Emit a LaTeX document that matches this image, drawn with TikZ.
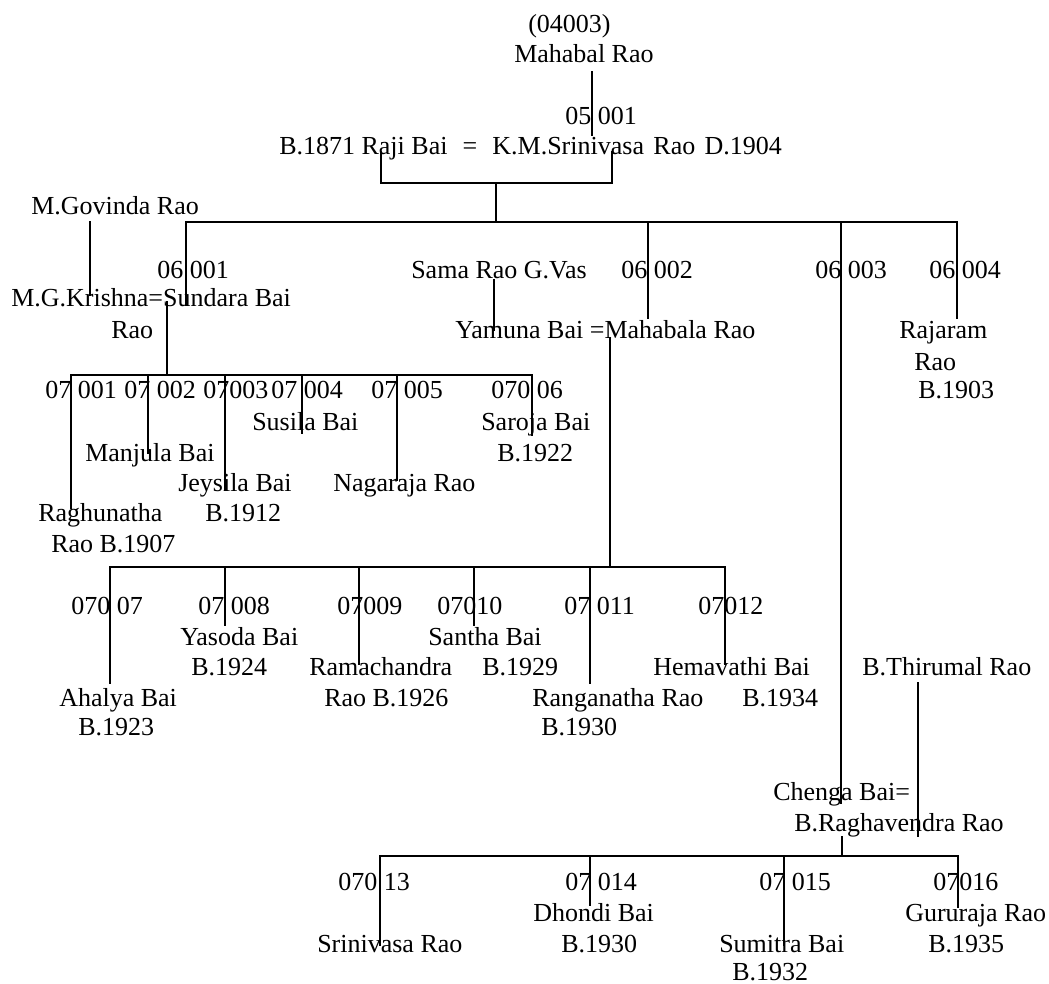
\documentclass[tikz,border=0pt]{standalone}
\usepackage{fontspec}
\setmainfont{Liberation Serif}
\begin{document}
\begin{tikzpicture}[x=0.75pt,y=-0.75pt,
  lbl/.style={anchor=base west, inner sep=0pt, font=\fontsize{19.5}{23}\selectfont},
  conn/.style={line width=1.4pt, line cap=rect}]
\useasboundingbox (0,0) rectangle (1049,984);
\fill[white] (0,0) rectangle (1049,984);
% ---- texts (base west) ----
\node[lbl] (n04003) at (528,33) {(04003)};
\node[lbl] (mahabal) at (514,63) {Mahabal Rao};
\node[lbl] (g05) at (565,125) {05 001};
\node[lbl] (couple1) at (279,155) {B.1871 Raji Bai\hspace{0.58em}=\hspace{0.58em}K.M.Srinivasa\hspace{0.36em}Rao\hspace{0.36em}D.1904};
\node[lbl] (govinda) at (31,215) {M.Govinda Rao};
\node[lbl] (g06a) at (157,278) {06 001};
\node[lbl] (krishna) at (11,306) {M.G.Krishna=Sundara Bai};
\node[lbl] (krishnarao) at (111,338) {Rao};
\node[lbl] (sama) at (411,278) {Sama Rao G.Vas};
\node[lbl] (g06b) at (621,278) {06 002};
\node[lbl] (g06c) at (815,278) {06 003};
\node[lbl] (g06d) at (929,278) {06 004};
\node[lbl] (yamuna) at (455,338) {Yamuna Bai =Mahabala Rao};
\node[lbl] (rajaram) at (899,338) {Rajaram};
\node[lbl] (rajaramrao) at (914,370) {Rao};
\node[lbl] (rajaramb) at (918,398) {B.1903};
% gen 7 (first family)
\node[lbl] (c1) at (45,398) {07 001};
\node[lbl] (c2) at (124,398) {07 002};
\node[lbl] (c3) at (203,398) {07003};
\node[lbl] (c4) at (271,398) {07 004};
\node[lbl] (c5) at (371,398) {07 005};
\node[lbl] (c6) at (491,398) {070 06};
\node[lbl] (susila) at (252,430) {Susila Bai};
\node[lbl] (saroja) at (481,430) {Saroja Bai};
\node[lbl] (manjula) at (85,461) {Manjula Bai};
\node[lbl] (sarojab) at (497,461) {B.1922};
\node[lbl] (jeysila) at (178,491) {Jeysila Bai};
\node[lbl] (nagaraja) at (333,491) {Nagaraja Rao};
\node[lbl] (raghu) at (38,521) {Raghunatha};
\node[lbl] (jeysilab) at (205,521) {B.1912};
\node[lbl] (raghub) at (51,552) {Rao B.1907};
% gen 7 (second family)
\node[lbl] (c7) at (71,614) {070 07};
\node[lbl] (c8) at (198,614) {07 008};
\node[lbl] (c9) at (337,614) {07009};
\node[lbl] (c10) at (437,614) {07010};
\node[lbl] (c11) at (564,614) {07 011};
\node[lbl] (c12) at (698,614) {07012};
\node[lbl] (yasoda) at (180,645) {Yasoda Bai};
\node[lbl] (santha) at (428,645) {Santha Bai};
\node[lbl] (yasodab) at (191,675) {B.1924};
\node[lbl] (rama) at (309,675) {Ramachandra};
\node[lbl] (santhab) at (482,675) {B.1929};
\node[lbl] (hema) at (653,675) {Hemavathi Bai};
\node[lbl] (thirumal) at (862,675) {B.Thirumal Rao};
\node[lbl] (ahalya) at (59,706) {Ahalya Bai};
\node[lbl] (ramab) at (324,706) {Rao B.1926};
\node[lbl] (ranga) at (532,706) {Ranganatha Rao};
\node[lbl] (hemab) at (742,706) {B.1934};
\node[lbl] (ahalyab) at (78,735) {B.1923};
\node[lbl] (rangab) at (541,735) {B.1930};
% third family
\node[lbl] (chenga) at (773,800) {Chenga Bai=};
\node[lbl] (raghav) at (794,831) {B.Raghavendra Rao};
\node[lbl] (c13) at (338,890) {070 13};
\node[lbl] (c14) at (565,890) {07 014};
\node[lbl] (c15) at (759,890) {07 015};
\node[lbl] (c16) at (933,890) {07016};
\node[lbl] (dhondi) at (533,921) {Dhondi Bai};
\node[lbl] (gururaja) at (905,921) {Gururaja Rao};
\node[lbl] (srini) at (317,952) {Srinivasa Rao};
\node[lbl] (dhondib) at (561,952) {B.1930};
\node[lbl] (sumitra) at (719,952) {Sumitra Bai};
\node[lbl] (gururajab) at (928,952) {B.1935};
\node[lbl] (sumitrab) at (732,980) {B.1932};
% ---- connector points ----
\coordinate (a0) at (592,72);  \coordinate (a1) at (592,135);
\coordinate (p1) at (381,152); \coordinate (p2) at (381,183);
\coordinate (p3) at (612,183); \coordinate (p4) at (612,152);
\coordinate (pm) at (496,183); \coordinate (pb) at (496,222);
\coordinate (bl) at (186,222); \coordinate (br) at (957,222);
\coordinate (b1) at (186,305);
\coordinate (b2t) at (648,222); \coordinate (b2) at (648,318);
\coordinate (b3t) at (841,222); \coordinate (b3) at (841,803);
\coordinate (b4) at (957,318);
\coordinate (gv0) at (90,222); \coordinate (gv1) at (90,295);
\coordinate (sm0) at (494,280); \coordinate (sm1) at (494,330);
\coordinate (k0) at (167,302); \coordinate (k1) at (167,375);
\coordinate (kl) at (71,375); \coordinate (kr) at (532,375);
\coordinate (k1t) at (71,375);  \coordinate (k1b) at (71,508);
\coordinate (k2t) at (148,375); \coordinate (k2b) at (148,453);
\coordinate (k3t) at (225,375); \coordinate (k3b) at (225,490);
\coordinate (k4t) at (302,375); \coordinate (k4b) at (302,433);
\coordinate (k5t) at (397,375); \coordinate (k5b) at (397,480);
\coordinate (k6b) at (532,435);
\coordinate (m0) at (610,338); \coordinate (m1) at (610,567);
\coordinate (ml) at (110,567); \coordinate (mr) at (725,567);
\coordinate (m7b) at (110,683);
\coordinate (m8t) at (225,567); \coordinate (m8b) at (225,625);
\coordinate (m9t) at (359,567); \coordinate (m9b) at (359,664);
\coordinate (m10t) at (474,567); \coordinate (m10b) at (474,625);
\coordinate (m11t) at (590,567); \coordinate (m11b) at (590,683);
\coordinate (m12b) at (725,664);
\coordinate (th0) at (918,683); \coordinate (th1) at (918,836);
\coordinate (r0) at (842,837); \coordinate (r1) at (842,856);
\coordinate (rl) at (380,856); \coordinate (rr) at (958,856);
\coordinate (r13b) at (380,945);
\coordinate (r14t) at (590,856); \coordinate (r14b) at (590,905);
\coordinate (r15t) at (784,856); \coordinate (r15b) at (784,945);
\coordinate (r16b) at (958,907);
% ---- connectors ----
\draw[conn] (a0) -- (a1);
\draw[conn] (p1) -- (p2) -- (p3) -- (p4);
\draw[conn] (pm) -- (pb);
\draw[conn] (bl) -- (br);
\draw[conn] (bl) -- (b1);
\draw[conn] (b2t) -- (b2);
\draw[conn] (b3t) -- (b3);
\draw[conn] (br) -- (b4);
\draw[conn] (gv0) -- (gv1);
\draw[conn] (sm0) -- (sm1);
\draw[conn] (k0) -- (k1);
\draw[conn] (kl) -- (kr);
\draw[conn] (k1t) -- (k1b);
\draw[conn] (k2t) -- (k2b);
\draw[conn] (k3t) -- (k3b);
\draw[conn] (k4t) -- (k4b);
\draw[conn] (k5t) -- (k5b);
\draw[conn] (kr) -- (k6b);
\draw[conn] (m0) -- (m1);
\draw[conn] (ml) -- (mr);
\draw[conn] (ml) -- (m7b);
\draw[conn] (m8t) -- (m8b);
\draw[conn] (m9t) -- (m9b);
\draw[conn] (m10t) -- (m10b);
\draw[conn] (m11t) -- (m11b);
\draw[conn] (mr) -- (m12b);
\draw[conn] (th0) -- (th1);
\draw[conn] (r0) -- (r1);
\draw[conn] (rl) -- (rr);
\draw[conn] (rl) -- (r13b);
\draw[conn] (r14t) -- (r14b);
\draw[conn] (r15t) -- (r15b);
\draw[conn] (rr) -- (r16b);
\end{tikzpicture}
\end{document}
